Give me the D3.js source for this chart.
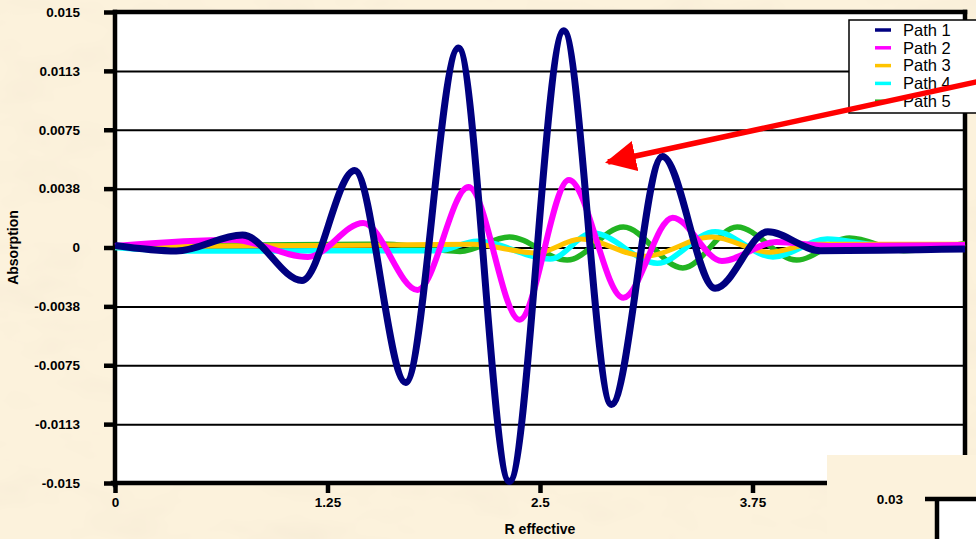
<!DOCTYPE html>
<html lang="en">
<head>
<meta charset="UTF-8">
<title>Absorption vs R effective</title>
<script src="https://d3js.org/d3.v7.min.js"></script>
<style>
  body { margin: 0; background: #f9ecd1; }
  svg { display: block; font-family: "Liberation Sans", Arial, sans-serif; }
  .axis text { font-weight: bold; font-size: 13.5px; fill: #000; }
  .axis .domain { display: none; }
  .grid .domain { display: none; }
  .grid text { display: none; }
</style>
</head>
<body>
<svg width="976" height="539"></svg>
<script>
// values: R effective / absorption, one pair of arrays per path
const path1R = [0, 0.36, 0.75, 1.10, 1.41, 1.71, 2.02, 2.32, 2.64, 2.92, 3.22, 3.53, 3.84, 4.15, 5];
const path1A = [0.00013, -0.00022, 0.0008, -0.0021, 0.0049, -0.0086, 0.0127, -0.0149, 0.0138, -0.0100, 0.0058, -0.0026, 0.0010, -0.0002, -0.0001];

const path2R = [0, 0.69, 1.135, 1.46, 1.78, 2.08, 2.38, 2.67, 2.99, 3.28, 3.57, 3.89, 4.2, 5];
const path2A = [0.0001, 0.0005, -0.0006, 0.00156, -0.0027, 0.00385, -0.0046, 0.0043, -0.0032, 0.0019, -0.00086, 0.00035, 0.0001, 0.00016];

const path3R = [0, 1.5, 2.1, 2.48, 2.74, 3.12, 3.51, 3.85, 4.1, 5];
const path3A = [0.00005, 0.00015, 0.0002, -0.00035, 0.00054, -0.00055, 0.00067, -0.0003, 0.0002, 0.0002];

const path4R = [0, 0.38, 1.9, 2.13, 2.56, 2.81, 3.19, 3.53, 3.87, 4.19, 4.5, 5];
const path4A = [0.0, -0.00022, -0.0002, 0.0004, -0.00073, 0.00092, -0.0010, 0.0010, -0.0006, 0.00054, 0.00016, 0.00016];

const path5R = [0, 1.6, 2.03, 2.32, 2.66, 2.99, 3.34, 3.66, 4.01, 4.32, 4.64, 5];
const path5A = [0.0001, 0.0002, -0.00025, 0.00067, -0.0008, 0.0013, -0.0013, 0.0013, -0.0008, 0.0006, -0.0002, 0.00025];

const seriesNames = ["Path 1", "Path 2", "Path 3", "Path 4", "Path 5"];
const seriesColors = ["#000080", "#ff00ff", "#ffc400", "#00ffff", "#22b422"];

const xTicks = [0, 1.25, 2.5, 3.75, 5];
const xTickLabels = ["0", "1.25", "2.5", "3.75", "5"];
const yTicks = [-0.015, -0.01125, -0.0075, -0.00375, 0, 0.00375, 0.0075, 0.01125, 0.015];
const yTickLabels = ["-0.015", "-0.0113", "-0.0075", "-0.0038", "0", "0.0038", "0.0075", "0.0113", "0.015"];

const svg = d3.select("svg");
const W = 976, H = 539;
const plotL = 115, plotR = 965, plotT = 12, plotB = 483;

const x = d3.scaleLinear().domain([0, 5]).range([plotL, plotR]);
const y = d3.scaleLinear().domain([-0.015, 0.015]).range([plotB, plotT]);

// parchment background
const defs = svg.append("defs");
const f = defs.append("filter").attr("id", "paper")
  .attr("x", 0).attr("y", 0).attr("width", "100%").attr("height", "100%");
f.append("feTurbulence").attr("type", "fractalNoise")
  .attr("baseFrequency", "0.012 0.025").attr("numOctaves", 3).attr("seed", 7);
f.append("feColorMatrix").attr("type", "matrix")
  .attr("values", "0 0 0 0 0.93  0 0 0 0 0.84  0 0 0 0 0.68  1.8 0 0 0 -0.85");

svg.append("rect").attr("width", W).attr("height", H).attr("fill", "#fcf2dc");
svg.append("rect").attr("width", W).attr("height", H).attr("fill", "#fff").attr("filter", "url(#paper)");

// plot area
svg.append("rect")
  .attr("x", plotL).attr("y", plotT)
  .attr("width", plotR - plotL).attr("height", plotB - plotT)
  .attr("fill", "#fff");

// grid lines
svg.append("g")
  .attr("class", "grid")
  .attr("transform", `translate(${plotL},0)`)
  .call(d3.axisLeft(y).tickValues(yTicks).tickSize(-(plotR - plotL)).tickFormat(""))
  .selectAll("line").attr("stroke", "#000").attr("stroke-width", 2);

// frame
const frame = svg.append("g").attr("stroke", "#000").attr("stroke-width", 4.5).attr("stroke-linecap", "square");
frame.append("line").attr("x1", plotL).attr("x2", plotR).attr("y1", plotT).attr("y2", plotT);
frame.append("line").attr("x1", plotR).attr("x2", plotR).attr("y1", plotT).attr("y2", plotB);
frame.append("line").attr("x1", plotL).attr("x2", plotL).attr("y1", plotT).attr("y2", plotB + 2);
frame.append("line").attr("x1", plotL - 2).attr("x2", plotR).attr("y1", plotB).attr("y2", plotB);

// curves, Path 5 at the bottom, Path 1 on top
const series = [
  { r: path1R, a: path1A, w: 7 },
  { r: path2R, a: path2A, w: 6 },
  { r: path3R, a: path3A, w: 5 },
  { r: path4R, a: path4A, w: 5.5 },
  { r: path5R, a: path5A, w: 5.5 }
];
const line = d3.line()
  .x(d => x(d[0]))
  .y(d => y(d[1]))
  .curve(d3.curveMonotoneX);

for (let i = series.length - 1; i >= 0; i--) {
  const s = series[i];
  svg.append("path")
    .datum(s.r.map((r, j) => [r, s.a[j]]))
    .attr("fill", "none")
    .attr("stroke", seriesColors[i])
    .attr("stroke-width", s.w)
    .attr("stroke-linejoin", "round")
    .attr("d", line);
}

// axes
const yAxis = svg.append("g")
  .attr("class", "axis")
  .attr("transform", `translate(${plotL},0)`)
  .call(d3.axisLeft(y).tickValues(yTicks).tickFormat((d, i) => yTickLabels[i]).tickSize(11).tickPadding(24));
yAxis.selectAll("line").attr("stroke", "#000").attr("stroke-width", 4.5);

const xAxis = svg.append("g")
  .attr("class", "axis")
  .attr("transform", `translate(0,${plotB})`)
  .call(d3.axisBottom(x).tickValues(xTicks).tickFormat((d, i) => xTickLabels[i]).tickSize(10).tickPadding(4));
xAxis.selectAll("line").attr("stroke", "#000").attr("stroke-width", 4.5);

svg.append("text")
  .attr("x", (plotL + plotR) / 2).attr("y", 534)
  .attr("text-anchor", "middle")
  .attr("font-weight", "bold").attr("font-size", 14)
  .text("R effective");

svg.append("text")
  .attr("transform", "rotate(-90)")
  .attr("x", -(plotT + plotB) / 2).attr("y", 18)
  .attr("text-anchor", "middle")
  .attr("font-weight", "bold").attr("font-size", 14)
  .text("Absorption");

// legend
const legend = svg.append("g");
legend.append("rect")
  .attr("x", 849).attr("y", 20).attr("width", 150).attr("height", 93)
  .attr("fill", "#fff").attr("stroke", "#000").attr("stroke-width", 1.5);
seriesNames.forEach((name, i) => {
  const ly = 30 + i * 17.8;
  legend.append("line")
    .attr("x1", 875).attr("x2", 891).attr("y1", ly).attr("y2", ly)
    .attr("stroke", seriesColors[i]).attr("stroke-width", 3.5);
  legend.append("text")
    .attr("x", 903).attr("y", ly + 5.8)
    .attr("font-size", 16.5).attr("fill", "#000")
    .text(name);
});

// red arrow
defs.append("marker").attr("id", "head")
  .attr("viewBox", "0 0 10 10").attr("refX", 9).attr("refY", 5)
  .attr("markerWidth", 5.6).attr("markerHeight", 5.6).attr("markerUnits", "strokeWidth")
  .attr("orient", "auto")
  .append("path").attr("d", "M0,0 L10,5 L0,10 Z").attr("fill", "#ff0000");
svg.append("line")
  .attr("x1", 990).attr("y1", 79).attr("x2", 608).attr("y2", 162)
  .attr("stroke", "#ff0000").attr("stroke-width", 5.5)
  .attr("marker-end", "url(#head)");

// edge of the next chart, overlapping the corner
const inset = svg.append("g");
inset.append("rect").attr("x", 827).attr("y", 455).attr("width", 149).attr("height", 84).attr("fill", "#fcf2dc");
inset.append("rect").attr("x", 937).attr("y", 499).attr("width", 39).attr("height", 40).attr("fill", "#fff");
inset.append("line").attr("x1", 925).attr("x2", 976).attr("y1", 499).attr("y2", 499).attr("stroke", "#000").attr("stroke-width", 4.5);
inset.append("line").attr("x1", 937).attr("x2", 937).attr("y1", 497).attr("y2", 539).attr("stroke", "#000").attr("stroke-width", 4.5);
inset.append("text").attr("x", 903).attr("y", 504).attr("text-anchor", "end")
  .attr("font-weight", "bold").attr("font-size", 13.5).text("0.03");
</script>
</body>
</html>
